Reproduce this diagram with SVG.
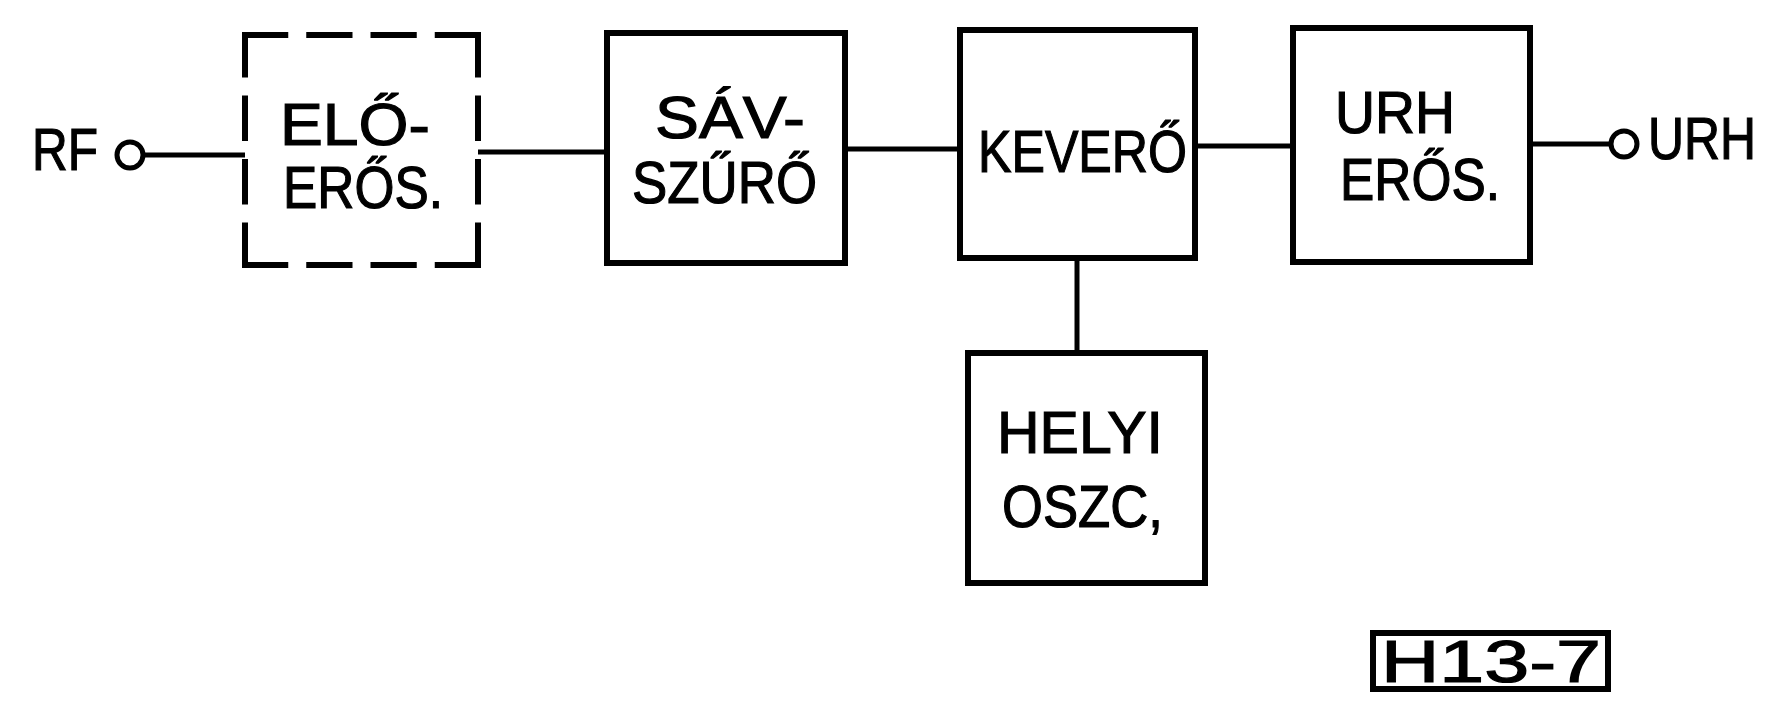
<svg xmlns="http://www.w3.org/2000/svg" width="1777" height="722" viewBox="0 0 1777 722">
<style>
.box{fill:none;stroke:#000;stroke-width:6}
.dash{stroke:#000;stroke-width:6;stroke-linecap:butt}
.wire{fill:none;stroke:#000;stroke-width:5}
.term{fill:#fff;stroke:#000;stroke-width:5}
text{font-family:"Liberation Sans",Arial,sans-serif;font-size:60px;fill:#000;stroke:#000;stroke-width:1.2}
</style>
<rect width="1777" height="722" fill="#fff"/>
<g id="connectors">
<line class="wire" x1="143" y1="155" x2="245" y2="155"/>
<line class="wire" x1="478" y1="152" x2="607" y2="152"/>
<line class="wire" x1="845" y1="149" x2="960" y2="149"/>
<line class="wire" x1="1195" y1="146" x2="1293" y2="146"/>
<line class="wire" x1="1530" y1="144" x2="1611" y2="144"/>
<line class="wire" x1="1077" y1="258" x2="1077" y2="353"/>
</g>
<g id="rf-in">
<circle class="term" cx="130" cy="155" r="13"/>
<text x="32" y="170" font-size="56" textLength="66" lengthAdjust="spacingAndGlyphs">RF</text>
</g>
<g id="eloeros">
<line class="dash" x1="242" y1="35" x2="481" y2="35" stroke-dasharray="46.25 18"/>
<line class="dash" x1="242" y1="265" x2="481" y2="265" stroke-dasharray="46.25 18"/>
<line class="dash" x1="245" y1="32" x2="245" y2="268" stroke-dasharray="45.5 18"/>
<line class="dash" x1="478" y1="32" x2="478" y2="268" stroke-dasharray="45.5 18"/>
<text x="280" y="145" textLength="150" lengthAdjust="spacingAndGlyphs">ELŐ-</text>
<text x="283" y="208" textLength="160" lengthAdjust="spacingAndGlyphs">ERŐS.</text>
</g>
<g id="savszuro">
<rect class="box" x="607" y="33" width="238" height="230"/>
<text x="655" y="138" textLength="150" lengthAdjust="spacingAndGlyphs">SÁV-</text>
<text x="632" y="203" textLength="185" lengthAdjust="spacingAndGlyphs">SZŰRŐ</text>
</g>
<g id="kevero">
<rect class="box" x="960" y="30" width="235" height="228"/>
<text x="978" y="172" textLength="209" lengthAdjust="spacingAndGlyphs">KEVERŐ</text>
</g>
<g id="urheros">
<rect class="box" x="1293" y="28" width="237" height="234"/>
<text x="1335" y="133" textLength="120" lengthAdjust="spacingAndGlyphs">URH</text>
<text x="1340" y="200" textLength="160" lengthAdjust="spacingAndGlyphs">ERŐS.</text>
</g>
<g id="helyi">
<rect class="box" x="968" y="353" width="237" height="230"/>
<text x="997" y="453" textLength="166" lengthAdjust="spacingAndGlyphs">HELYI</text>
<text x="1002" y="527" textLength="161" lengthAdjust="spacingAndGlyphs">OSZC,</text>
</g>
<g id="urh-out">
<circle class="term" cx="1624" cy="144" r="13"/>
<text x="1648" y="159" font-size="53" textLength="108" lengthAdjust="spacingAndGlyphs">URH</text>
</g>
<g id="label">
<rect class="box" x="1373" y="633" width="235" height="56" stroke-width="5"/>
<text x="1381" y="682" font-size="57" stroke-width="0" textLength="220" lengthAdjust="spacingAndGlyphs">H13-7</text>
</g>
</svg>
